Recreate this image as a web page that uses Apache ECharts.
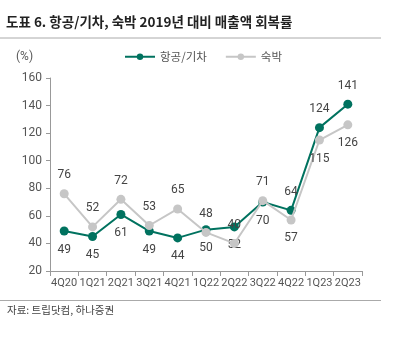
<!DOCTYPE html>
<html><head><meta charset="utf-8">
<script src="https://cdn.jsdelivr.net/npm/echarts@6/dist/echarts.min.js"></script>
<style>html,body{margin:0;padding:0;background:#fff}#c{width:400px;height:339px}</style>
</head><body><div id="c"></div>
<script>
const categories = ['4Q20','1Q21','2Q21','3Q21','4Q21','1Q22','2Q22','3Q22','4Q22','1Q23','2Q23'];
const airRail = [49,45,61,49,44,50,52,70,64,124,141];
const lodging = [76,52,72,53,65,48,40,71,57,115,126];
const yTicks = {min:20, max:160, interval:20};
const titleText = '도표 6. 항공/기차, 숙박 2019년 대비 매출액 회복률';
const sourceText = '자료: 트립닷컴, 하나증권';
const FONT = '"Noto Sans CJK KR", sans-serif';
const NUMFONT = 'Roboto, "Noto Sans CJK KR", sans-serif';
const GREEN = '#00725f', GRAY = '#c6c6c6';
const greenData = airRail.map((v,i)=>({value:v, label:{position: i>=8?'top':'bottom'}}));
const grayData = lodging.map((v,i)=>({value:v, label:{position: i>=8?'bottom':'top'}}));
const chart = echarts.init(document.getElementById('c'));
chart.setOption({
  animation:false,
  textStyle:{fontFamily:FONT},
  title:{text:titleText, left:6, top:15, padding:0, textStyle:{fontFamily:FONT, fontSize:13.5, fontWeight:'bold', color:'#222'}},
  legend:{top:51, left:124, padding:0, itemWidth:30, itemHeight:8, itemGap:18,
    textStyle:{fontFamily:FONT, fontSize:11.5, color:'#555'}, data:['항공/기차','숙박']},
  grid:{left:50, right:38, top:78, bottom:68},
  graphic:[
    {type:'line', shape:{x1:0,y1:38,x2:381,y2:38}, style:{stroke:'#aaa', lineWidth:1}},
    {type:'line', shape:{x1:0,y1:300.5,x2:381,y2:300.5}, style:{stroke:'#aaa', lineWidth:1}},
    {type:'text', left:7, top:305, style:{text:sourceText, font:'10.5px '+FONT, fill:'#444'}},
    {type:'text', left:16, top:51, style:{text:'(%)', font:'12px '+NUMFONT, fill:'#595959'}}
  ],
  xAxis:{type:'category', data:categories, boundaryGap:true,
    axisLine:{lineStyle:{color:'#999'}}, axisTick:{show:true, lineStyle:{color:'#999'}},
    axisLabel:{color:'#555', fontSize:11, fontFamily:NUMFONT, margin:7, interval:0}},
  yAxis:{type:'value', min:yTicks.min, max:yTicks.max, interval:yTicks.interval,
    axisLine:{show:true, lineStyle:{color:'#999'}}, axisTick:{show:true, length:4, lineStyle:{color:'#999'}},
    splitLine:{show:false},
    axisLabel:{color:'#555', fontSize:12, fontFamily:NUMFONT, margin:8}},
  series:[
    {name:'항공/기차', type:'line', data:greenData, symbol:'circle', symbolSize:9, z:2,
     itemStyle:{color:GREEN}, lineStyle:{color:GREEN, width:2},
     label:{show:true, distance:8, color:'#444', fontSize:12, fontFamily:NUMFONT}},
    {name:'숙박', type:'line', data:grayData, symbol:'circle', symbolSize:9, z:3,
     itemStyle:{color:GRAY}, lineStyle:{color:GRAY, width:2},
     label:{show:true, distance:8, color:'#444', fontSize:12, fontFamily:NUMFONT}}
  ]
});
</script></body></html>
